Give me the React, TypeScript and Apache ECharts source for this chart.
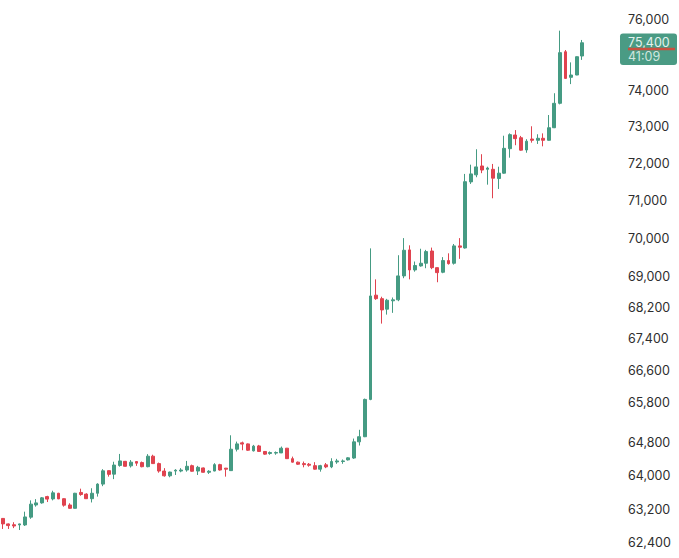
import { useEffect, useRef } from 'react';
import * as echarts from 'echarts';

const opens = [
  62980, 62850, 62830, 62825, 62825, 63010, 63300, 63350, 63500, 63445, 63580, 63450, 63300, 63220, 63600,
  63560, 63450, 63580, 63800, 64125, 64040, 64250, 64350, 64240, 64345, 64320, 64220, 64475, 64295, 64115,
  64000, 64115, 64115, 64140, 64245, 64115, 64190, 64085, 64115, 64270, 64185, 64125, 64645, 64800, 64775,
  64605, 64725, 64590, 64540, 64550, 64555, 64670, 64415, 64330, 64295, 64280, 64245, 64160, 64265, 64215,
  64335, 64345, 64385, 64430, 64825, 64950, 65870, 68510, 68420, 68150, 68365, 68390, 69010, 69690, 69165,
  69270, 69340, 69660, 69225, 69105, 69410, 69340, 69795, 69740, 71500, 71690, 71930, 71840, 71840, 71590,
  71735, 72400, 72775, 72700, 72365, 72665, 72630, 72685, 72630, 72975, 73650, 75095, 74375, 74440, 74975,
];
const closes = [
  62850, 62810, 62800, 62850, 63015, 63320, 63350, 63470, 63440, 63590, 63445, 63295, 63220, 63580, 63550,
  63450, 63580, 63800, 64120, 64035, 64260, 64360, 64230, 64330, 64305, 64220, 64475, 64295, 64115, 64000,
  64090, 64135, 64140, 64230, 64110, 64205, 64085, 64110, 64270, 64140, 64160, 64645, 64775, 64770, 64620,
  64720, 64590, 64525, 64565, 64565, 64670, 64415, 64330, 64280, 64270, 64255, 64160, 64245, 64215, 64345,
  64360, 64360, 64435, 64825, 64950, 65870, 68490, 68420, 68130, 68380, 68390, 69010, 69680, 69165, 69280,
  69340, 69645, 69225, 69095, 69410, 69330, 69795, 69760, 71505, 71715, 71905, 71820, 71875, 71600, 71735,
  72410, 72785, 72675, 72360, 72605, 72630, 72685, 72630, 72975, 73650, 75070, 74345, 74440, 74955, 75350,
];
const lows = [
  62730, 62730, 62750, 62705, 62800, 62970, 63260, 63330, 63370, 63410, 63440, 63260, 63210, 63215, 63520,
  63445, 63360, 63500, 63750, 63980, 63920, 64220, 64225, 64200, 64240, 64205, 64205, 64290, 64075, 63980,
  63965, 64020, 64085, 64100, 64100, 64020, 64080, 64045, 64110, 64125, 63980, 64120, 64590, 64620, 64605,
  64590, 64580, 64510, 64510, 64510, 64550, 64410, 64320, 64265, 64205, 64220, 64150, 64100, 64185, 64185,
  64290, 64290, 64370, 64410, 64735, 64940, 65850, 68390, 67780, 68010, 68055, 68355, 68950, 68920, 69120,
  69250, 69210, 69185, 68845, 69080, 69305, 69305, 69455, 69725, 71445, 71625, 71735, 71425, 71060, 71310,
  71720, 72155, 72495, 72345, 72290, 72565, 72530, 72465, 72620, 72965, 73620, 74330, 74185, 74435, 74865,
];
const highs = [
  62990, 62860, 62890, 62855, 63140, 63410, 63440, 63490, 63520, 63640, 63590, 63460, 63340, 63590, 63690,
  63580, 63700, 63820, 64160, 64130, 64340, 64530, 64360, 64380, 64355, 64345, 64525, 64510, 64320, 64185,
  64100, 64160, 64185, 64360, 64270, 64240, 64200, 64135, 64305, 64290, 64190, 64985, 64830, 64830, 64785,
  64750, 64750, 64600, 64590, 64590, 64710, 64675, 64465, 64345, 64345, 64310, 64330, 64265, 64310, 64425,
  64410, 64395, 64450, 64905, 65120, 65890, 69730, 68920, 68470, 68415, 68450, 69550, 70000, 69810, 69385,
  69720, 69690, 69750, 69230, 69500, 69600, 69845, 70000, 71715, 71965, 72385, 72250, 71910, 71985, 71910,
  72755, 72820, 72910, 72750, 72660, 73015, 72795, 72820, 73325, 73930, 75695, 75145, 74795, 74965, 75430,
];
const tickValues = [
  62400, 63200, 64000, 64800, 65800, 66600, 67400, 68200, 69000, 70000, 71000, 72000, 73000, 74000, 76000,
];
const categories = opens.map((_, i) => String(i));

const UP = '#459b83';
const DOWN = '#e0434f';
const FONT = 'Inter';

export default function App() {
  const chartRef = useRef<HTMLDivElement>(null);

  useEffect(() => {
    if (!chartRef.current) return;
    const chart = echarts.init(chartRef.current, undefined, { renderer: 'svg' });

    chart.setOption({
      animation: false,
      backgroundColor: '#ffffff',
      grid: { left: 0, top: 0, bottom: 0, right: 94 },
      xAxis: {
        type: 'category',
        data: categories,
        show: false,
      },
      yAxis: {
        type: 'log',
        position: 'right',
        min: 62047,
        max: 76575,
        axisLine: { show: false },
        axisTick: { show: false },
        splitLine: { show: false },
        minorTick: { show: false },
        axisLabel: {
          customValues: tickValues,
          margin: 43,
          align: 'left',
          color: '#2e2e2e',
          fontFamily: FONT,
          fontSize: 12.5,
          padding: [4, 0, 0, 0],
          formatter: (v: number) => Math.round(v).toLocaleString('en-US'),
        },
      },
      series: [
        {
          type: 'candlestick',
          barWidth: 3.4,
          itemStyle: {
            color: UP,
            color0: DOWN,
            borderColor: UP,
            borderColor0: DOWN,
            borderWidth: 1,
          },
          data: opens.map((o, i) => [o, closes[i], lows[i], highs[i]]),
        },
      ],
      graphic: [
        {
          type: 'rect',
          shape: { x: 620, y: 33.5, width: 57, height: 31.5, r: 3 },
          style: { fill: '#4a9b84' },
        },
        {
          type: 'text',
          x: 628,
          y: 42,
          style: {
            text: '75,400',
            fill: '#e4f2ee',
            font: `12.5px ${FONT}`,
            textVerticalAlign: 'middle',
          },
        },
        {
          type: 'text',
          x: 628,
          y: 56.5,
          style: {
            text: '41:09',
            fill: '#cfe6df',
            font: `12.5px ${FONT}`,
            textVerticalAlign: 'middle',
          },
        },
        {
          type: 'line',
          shape: { x1: 628, y1: 49, x2: 675, y2: 49 },
          style: { stroke: '#c9503f', lineWidth: 2.5 },
        },
      ],
    });

    return () => chart.dispose();
  }, []);

  return (
    <div
      ref={chartRef}
      style={{ position: 'absolute', left: 0, top: 0, width: 679, height: 558 }}
    />
  );
}
